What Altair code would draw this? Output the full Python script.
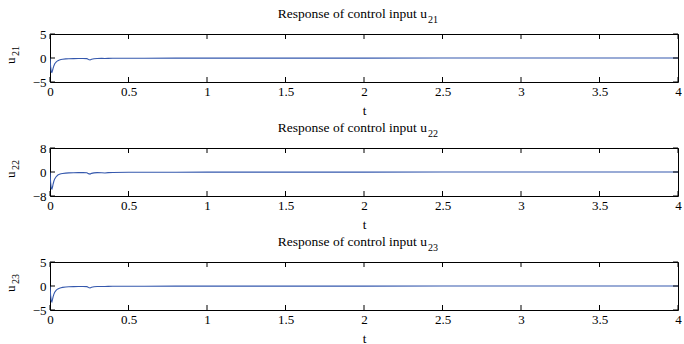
import altair as alt
import pandas as pd

# ---- data ----
t = [0, 0.004, 0.008, 0.012, 0.016, 0.02, 0.025, 0.03, 0.04, 0.05, 0.06, 0.07, 0.08,
     0.1, 0.12, 0.15, 0.18, 0.21, 0.235, 0.245, 0.255, 0.265, 0.28, 0.3, 0.33, 0.35,
     0.37, 0.4, 0.5, 0.6, 0.8, 1.0, 1.5, 2.0, 2.5, 3.0, 3.5, 4.0]
u21 = [0, -1.8, -2.9, -3.0, -2.6, -2.1, -1.6, -1.2, -0.8, -0.55, -0.4, -0.3, -0.25,
       -0.18, -0.15, -0.12, -0.1, -0.1, -0.12, -0.3, -0.4, -0.25, -0.15, -0.1, -0.08, -0.1,
       -0.07, -0.06, -0.05, -0.04, -0.03, -0.03, -0.02, -0.02, -0.01, -0.01, -0.01, 0.0]
u22 = [0, -3.5, -5.5, -5.7, -5.0, -4.0, -3.0, -2.3, -1.5, -1.0, -0.75, -0.6, -0.5,
       -0.38, -0.3, -0.25, -0.2, -0.2, -0.25, -0.55, -0.7, -0.45, -0.3, -0.2, -0.25, -0.35,
       -0.2, -0.15, -0.1, -0.08, -0.06, -0.05, -0.04, -0.03, -0.02, -0.02, -0.01, 0.0]
u23 = [0, -2.0, -3.1, -3.3, -2.8, -2.2, -1.7, -1.3, -0.85, -0.6, -0.45, -0.35, -0.28,
       -0.2, -0.16, -0.13, -0.11, -0.1, -0.12, -0.32, -0.42, -0.27, -0.16, -0.11, -0.09, -0.11,
       -0.08, -0.06, -0.05, -0.04, -0.03, -0.03, -0.02, -0.02, -0.01, -0.01, -0.01, 0.0]
x_ticks = [0, 0.5, 1, 1.5, 2, 2.5, 3, 3.5, 4]
y_limits = [5, 8, 5]
subscripts = ["21", "22", "23"]
title_text = "Response of control input u"
y_letter = "u"
x_title = "t"

FONT = "Liberation Serif"
W, H = 628, 48
LINE_COLOR = "#3558ad"


def panel(vals, lim, sub, anchor=False):
    df = pd.DataFrame({"t": t, "u": vals})
    xs = alt.Scale(domain=[0, 4], nice=False, zero=False)
    ys = alt.Scale(domain=[-lim, lim], nice=False)
    y_vals = [-lim, 0, lim]
    xa = alt.Axis(values=x_ticks, format="~g", ticks=False, domain=False, grid=False,
                  title=x_title, labelPadding=3, labelFlush=False, labelOverlap=False,
                  labelFont=FONT, labelFontSize=13, labelColor="black",
                  titleFont=FONT, titleFontSize=13, titleFontWeight="normal",
                  titleColor="black", titlePadding=6)
    ya = alt.Axis(values=y_vals, format="~g", ticks=False, domain=False, grid=False,
                  title=None, labelPadding=4, labelFlush=False, labelOverlap=False,
                  labelFont=FONT, labelFontSize=13, labelColor="black")
    X = lambda: alt.X("t:Q", scale=xs, axis=xa)
    Y = lambda: alt.Y("u:Q", scale=ys, axis=ya)

    line = alt.Chart(df).mark_line(color=LINE_COLOR, strokeWidth=1.1, clip=True).encode(
        x=X(), y=Y())
    xt = pd.DataFrame({"t": x_ticks})
    top_t = alt.Chart(xt).mark_rule(color="black", strokeWidth=1).encode(
        x=X(), y=alt.value(0), y2=alt.value(5))
    bot_t = alt.Chart(xt).mark_rule(color="black", strokeWidth=1).encode(
        x=X(), y=alt.value(H), y2=alt.value(H - 5))
    yt = pd.DataFrame({"u": y_vals})
    left_t = alt.Chart(yt).mark_rule(color="black", strokeWidth=1).encode(
        y=Y(), x=alt.value(0), x2=alt.value(5))
    right_t = alt.Chart(yt).mark_rule(color="black", strokeWidth=1).encode(
        y=Y(), x=alt.value(W), x2=alt.value(W - 5))

    tdf = pd.DataFrame({"main": [title_text], "sub": [sub], "ul": [y_letter]})
    ttl = alt.Chart(tdf).mark_text(font=FONT, fontSize=13.5, align="right",
                                   baseline="alphabetic", color="black").encode(
        text="main:N", x=alt.value(377), y=alt.value(-16))
    ttl_sub = alt.Chart(tdf).mark_text(font=FONT, fontSize=10, align="left",
                                       baseline="alphabetic", color="black").encode(
        text="sub:N", x=alt.value(378), y=alt.value(-11))
    yl = alt.Chart(tdf).mark_text(font=FONT, fontSize=13, align="left", angle=270,
                                  baseline="alphabetic", color="black").encode(
        text="ul:N", x=alt.value(-35), y=alt.value(30))
    yl_sub = alt.Chart(tdf).mark_text(font=FONT, fontSize=10, align="left", angle=270,
                                      baseline="alphabetic", color="black").encode(
        text="sub:N", x=alt.value(-31), y=alt.value(22))
    layers = [line, top_t, bot_t, left_t, right_t, ttl, ttl_sub, yl, yl_sub]
    if anchor:
        # invisible corner marker so the page origin sits 50px left / 34px above the plot
        layers.append(alt.Chart(tdf).mark_rule(opacity=0, strokeWidth=1).encode(
            x=alt.value(-49.5), x2=alt.value(-49.5), y=alt.value(-33.5), y2=alt.value(-33)))
    return alt.layer(*layers).properties(width=W, height=H)


chart = alt.vconcat(
    panel(u21, y_limits[0], subscripts[0], anchor=True),
    panel(u22, y_limits[1], subscripts[1]),
    panel(u23, y_limits[2], subscripts[2]),
    spacing=66, bounds="flush",
).properties(
    padding=0,
    background="white",
).configure_view(
    stroke="black", strokeWidth=1
).configure_axis(
    labelFont=FONT, labelFontSize=13, labelColor="black",
    titleFont=FONT, titleFontSize=13, titleFontWeight="normal", titleColor="black",
)

chart.save("out.html", embed_options={"renderer": "svg", "actions": False})
